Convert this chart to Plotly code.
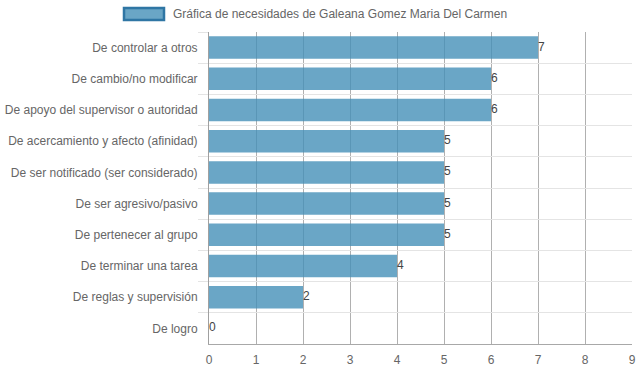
import plotly.graph_objects as go

categories = [
    "De controlar a otros",
    "De cambio/no modificar",
    "De apoyo del supervisor o autoridad",
    "De acercamiento y afecto (afinidad)",
    "De ser notificado (ser considerado)",
    "De ser agresivo/pasivo",
    "De pertenecer al grupo",
    "De terminar una tarea",
    "De reglas y supervisión",
    "De logro",
]
values = [7, 6, 6, 5, 5, 5, 5, 4, 2, 0]
x_ticks = [0, 1, 2, 3, 4, 5, 6, 7, 8, 9]
series_name = "Gráfica de necesidades de Galeana Gomez Maria Del Carmen"

W, H = 639, 372
ML, MR, MT, MB = 209, 7, 32, 28
PW, PH = W - ML - MR, H - MT - MB

def px_x(p):
    return (p - ML) / PW

def px_y(p):
    return (H - MB - p) / PH

font_family = "Liberation Sans, Arial, Helvetica, sans-serif"

fig = go.Figure()
fig.add_trace(go.Bar(
    x=values, y=categories, orientation="h",
    name=series_name,
    marker=dict(color="rgba(69,144,184,0.8)", line=dict(width=0)),
    showlegend=False, hoverinfo="x+y",
))
fig.add_trace(go.Scatter(
    x=values, y=categories, mode="text",
    text=[str(v) for v in values], textposition="middle right",
    textfont=dict(size=12, color="#444", family=font_family),
    showlegend=False, hoverinfo="skip", cliponaxis=False,
))

fig.update_layout(
    width=W, height=H,
    margin=dict(l=ML, r=MR, t=MT, b=MB, autoexpand=False),
    paper_bgcolor="white", plot_bgcolor="white",
    bargap=0.28,
    font=dict(family=font_family, size=12, color="#666"),
    xaxis=dict(
        range=[0, 9], tickvals=x_ticks, showgrid=True,
        gridcolor="#b0b0b0", gridwidth=1,
        zeroline=False, showline=True, linecolor="#a8a8a8", linewidth=1,
        ticks="outside", ticklen=5, tickcolor="rgba(0,0,0,0)",
        tickfont=dict(size=12, color="#666"),
        automargin=False, fixedrange=True,
    ),
    yaxis=dict(
        type="category", autorange="reversed", tickson="boundaries",
        showgrid=True, gridcolor="#e4e4e4", gridwidth=1,
        ticks="outside", ticklen=10, tickcolor="#e4e4e4", tickwidth=1,
        ticklabelstandoff=8,
        showline=True, linecolor="#a0a0a0", linewidth=1,
        tickfont=dict(size=12, color="#666"), zeroline=False,
        automargin=False, fixedrange=True,
    ),
    shapes=[dict(
        type="rect", xref="paper", yref="paper",
        x0=px_x(124), x1=px_x(164), y0=px_y(20), y1=px_y(8),
        fillcolor="#6aa6c6", line=dict(color="#2f76a4", width=2.5),
    )],
    annotations=[dict(
        text=series_name, xref="paper", yref="paper",
        x=px_x(171), y=px_y(14), xanchor="left", yanchor="middle",
        showarrow=False, font=dict(size=12, color="#666", family=font_family),
    )],
)

fig.write_html("out.html", config={"displayModeBar": False},
               post_script="document.body.style.margin='0';")
